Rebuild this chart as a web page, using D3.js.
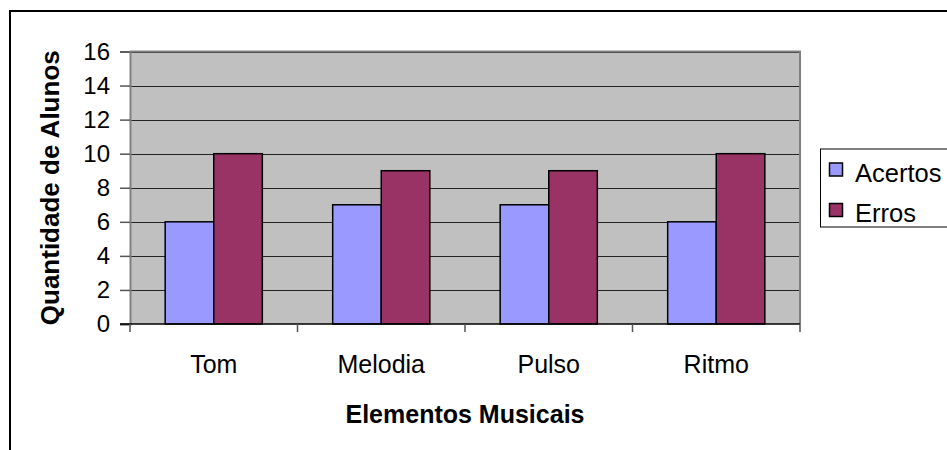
<!DOCTYPE html>
<html>
<head>
<meta charset="utf-8">
<script src="https://cdn.jsdelivr.net/npm/d3@7"></script>
<style>
  html, body { margin: 0; padding: 0; background: #fff; }
  svg { display: block; font-family: Arial, "Liberation Sans", sans-serif; }
</style>
</head>
<body>
<svg id="chart" width="947" height="450"></svg>
<script>
// Chart data
const categories = ["Tom", "Melodia", "Pulso", "Ritmo"];
const seriesNames = ["Acertos", "Erros"];
const acertos = [6, 7, 7, 6];
const erros = [10, 9, 9, 10];
const yTicks = [0, 2, 4, 6, 8, 10, 12, 14, 16];
const colors = ["#9999FF", "#993366"];

const svg = d3.select("#chart");

// Outer chart frame
svg.append("rect")
  .attr("x", 10).attr("y", 11)
  .attr("width", 1000).attr("height", 500)
  .attr("fill", "#fff").attr("stroke", "#000").attr("stroke-width", 2);

const plot = { left: 130, top: 51.5, right: 800, bottom: 324 };

const x = d3.scaleBand().domain(categories).range([plot.left, plot.right]).paddingInner(0).paddingOuter(0);
const y = d3.scaleLinear().domain([0, 16]).range([plot.bottom, plot.top]);
const barW = x.bandwidth() * 0.29;

// Plot background
svg.append("rect")
  .attr("x", plot.left).attr("y", plot.top)
  .attr("width", plot.right - plot.left).attr("height", plot.bottom - plot.top)
  .attr("fill", "#C0C0C0");

// Horizontal gridlines
svg.append("g").selectAll("line")
  .data(yTicks.filter(d => d > 0))
  .join("line")
  .attr("x1", plot.left).attr("x2", plot.right)
  .attr("y1", d => Math.round(y(d)) + 0.5).attr("y2", d => Math.round(y(d)) + 0.5)
  .attr("stroke", "#222").attr("stroke-width", 1.2);

// Plot border (top and right)
svg.append("path")
  .attr("d", `M${plot.left},${plot.top}H${plot.right}V${plot.bottom}`)
  .attr("fill", "none").attr("stroke", "#808080").attr("stroke-width", 2);

// Bars
const series = [acertos, erros];
series.forEach((vals, si) => {
  svg.append("g").selectAll("rect")
    .data(categories.map((c, i) => ({ c, v: vals[i] })))
    .join("rect")
    .attr("x", d => x(d.c) + x.bandwidth() / 2 - barW + si * barW)
    .attr("y", d => y(d.v))
    .attr("width", barW)
    .attr("height", d => y(0) - y(d.v))
    .attr("fill", colors[si])
    .attr("stroke", "#000").attr("stroke-width", 1.5);
});

// Y axis
const yAxis = svg.append("g")
  .attr("transform", `translate(${plot.left},0)`)
  .call(d3.axisLeft(y).tickValues(yTicks).tickSize(10).tickPadding(10).tickFormat(d3.format("d")));
yAxis.select(".domain").attr("stroke", "#808080").attr("stroke-width", 2);
yAxis.selectAll(".tick line").attr("stroke", "#555").attr("stroke-width", 1.5);
yAxis.selectAll(".tick text").attr("font-size", 24).attr("fill", "#000")
  .attr("font-family", "Arial, 'Liberation Sans', sans-serif");

// X axis
const xAxis = svg.append("g")
  .attr("transform", `translate(0,${plot.bottom})`)
  .call(d3.axisBottom(x).tickSize(0).tickPadding(0));
xAxis.select(".domain").remove();
xAxis.selectAll(".tick text")
  .attr("font-size", 25).attr("fill", "#000")
  .attr("font-family", "Arial, 'Liberation Sans', sans-serif")
  .attr("dy", null).attr("y", 49);
svg.append("line")
  .attr("x1", plot.left - 10).attr("x2", plot.right)
  .attr("y1", plot.bottom).attr("y2", plot.bottom)
  .attr("stroke", "#000").attr("stroke-width", 1.5);
const xTickPos = categories.map(c => x(c)).concat([plot.right]);
svg.append("g").selectAll("line")
  .data(xTickPos)
  .join("line")
  .attr("x1", d => d).attr("x2", d => d)
  .attr("y1", plot.bottom).attr("y2", plot.bottom + 8)
  .attr("stroke", "#555").attr("stroke-width", 1.5);

// Axis titles
svg.append("text")
  .attr("transform", `translate(59,${(plot.top + plot.bottom) / 2}) rotate(-90)`)
  .attr("text-anchor", "middle")
  .attr("font-size", 26).attr("font-weight", "bold")
  .text("Quantidade de Alunos");

svg.append("text")
  .attr("x", (plot.left + plot.right) / 2).attr("y", 423)
  .attr("text-anchor", "middle")
  .attr("font-size", 25).attr("font-weight", "bold")
  .text("Elementos Musicais");

// Legend
const legend = svg.append("g");
legend.append("rect")
  .attr("x", 820.5).attr("y", 149)
  .attr("width", 200).attr("height", 78)
  .attr("fill", "#fff").attr("stroke", "#000").attr("stroke-width", 1);
seriesNames.forEach((name, i) => {
  legend.append("rect")
    .attr("x", 829.5).attr("y", 163 + i * 40.5)
    .attr("width", 13).attr("height", 13)
    .attr("fill", colors[i]).attr("stroke", "#000").attr("stroke-width", 1.5);
  legend.append("text")
    .attr("x", 855).attr("y", 181.5 + i * 40)
    .attr("font-size", 25.5)
    .text(name);
});
</script>
</body>
</html>
